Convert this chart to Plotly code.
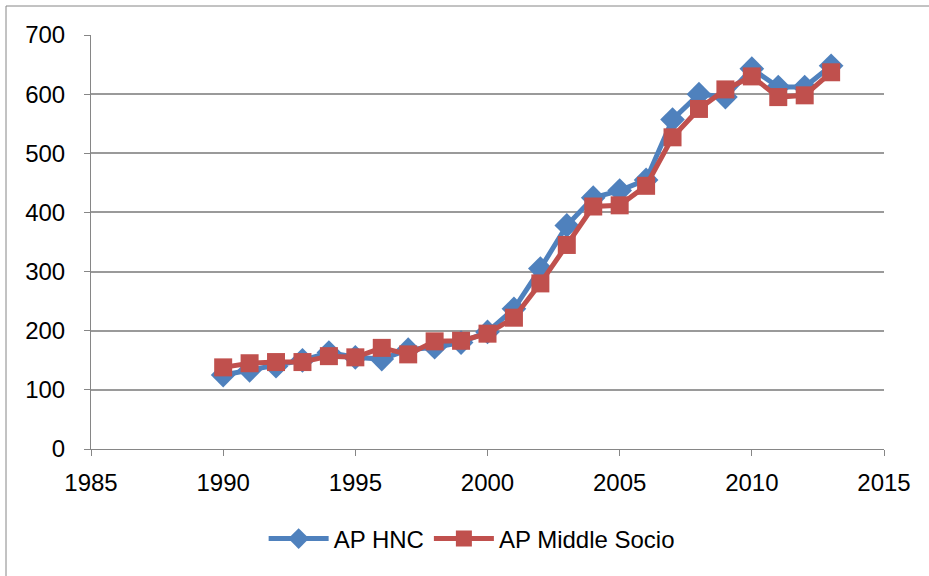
import plotly.graph_objects as go

years = list(range(1990, 2014))
hnc = [125, 133, 140, 150, 163, 155, 152, 168, 172, 180, 198, 237, 305, 378, 425, 437, 455, 557, 600, 595, 643, 612, 612, 648]
middle = [138, 145, 147, 147, 157, 155, 171, 160, 182, 183, 195, 222, 280, 345, 410, 412, 445, 527, 575, 608, 630, 595, 598, 637]

x_ticks = [1985, 1990, 1995, 2000, 2005, 2010, 2015]
y_ticks = [0, 100, 200, 300, 400, 500, 600, 700]

fig = go.Figure()
fig.add_trace(go.Scatter(
    x=years, y=hnc, name="AP HNC", mode="lines+markers",
    line=dict(color="#4F81BD", width=5),
    marker=dict(symbol="diamond", size=19, color="#4F81BD"),
))
fig.add_trace(go.Scatter(
    x=years, y=middle, name="AP Middle Socio", mode="lines+markers",
    line=dict(color="#C0504D", width=5),
    marker=dict(symbol="square", size=18, color="#C0504D"),
))

W, H = 929, 576
L, R, T, B = 91, 45, 35, 127
pw, ph = W - L - R, H - T - B

fig.update_layout(
    width=W, height=H,
    margin=dict(l=L, r=R, t=T, b=B, autoexpand=False),
    paper_bgcolor="white", plot_bgcolor="white",
    font=dict(family="Liberation Sans, Arial", size=24, color="black"),
    showlegend=True,
    legend=dict(orientation="h", x=0.48, xanchor="center", y=-(539 - 449) / ph, yanchor="middle",
                font=dict(size=24), itemwidth=60, tracegroupgap=0),
    xaxis=dict(range=[1985, 2015], tickvals=x_ticks, showgrid=False, automargin=False,
               showline=True, linecolor="#868686", linewidth=1,
               ticks="outside", tickcolor="#868686", ticklen=6, zeroline=False,
               ticklabelstandoff=6),
    yaxis=dict(range=[0, 700], tickvals=y_ticks, showgrid=True, gridcolor="#9a9a9a", gridwidth=2,
               automargin=False,
               showline=True, linecolor="#868686", linewidth=1,
               ticks="outside", tickcolor="#868686", ticklen=6, zeroline=False,
               ticklabelstandoff=14),
    shapes=[dict(type="rect", xref="paper", yref="paper",
                 x0=(6 - L) / pw, x1=(W + 20 - L) / pw,
                 y0=(H - B - (H + 20)) / ph, y1=(H - B - 6) / ph,
                 line=dict(color="#868686", width=1), fillcolor="rgba(0,0,0,0)")],
)

fig.write_html("out.html", config={"displayModeBar": False},
               post_script="document.body.style.margin='0';document.body.style.padding='0';")
